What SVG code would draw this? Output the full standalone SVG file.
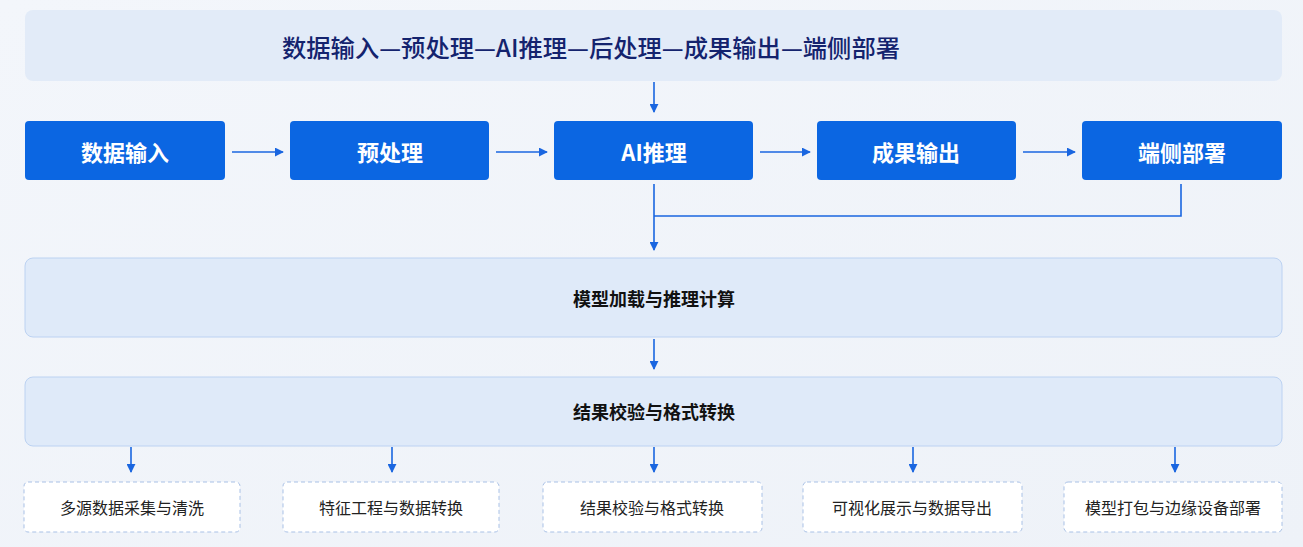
<svg xmlns="http://www.w3.org/2000/svg" width="1303" height="547" viewBox="0 0 1303 547">
<defs>
<linearGradient id="bg" x1="0" y1="0" x2="1" y2="1"><stop offset="0" stop-color="#f3f6fb"/><stop offset="1" stop-color="#eef2f8"/></linearGradient>
<marker id="ah" viewBox="0 0 10 10" refX="9" refY="5" markerWidth="9" markerHeight="9" markerUnits="userSpaceOnUse" orient="auto"><path d="M0,0 L10,5 L0,10 Z" fill="#1a66e0"/></marker>
<style>
.t{font-family:"Noto Sans CJK SC","Liberation Sans",sans-serif;text-anchor:middle;dominant-baseline:central}
.blue{fill:#0b66e2}
.bt{fill:#fff;font-size:22px;font-weight:700}
.panel{fill:#dfeaf9;stroke:#bcd2f2;stroke-width:1}
.pt{fill:#111;font-size:18px;font-weight:700}
.dash{fill:#fff;stroke:#a9c1e6;stroke-width:1;stroke-dasharray:4 3}
.dt{fill:#222;font-size:16px}
.c{stroke:#1a66e0;stroke-width:1.6;fill:none}
</style>
</defs>
<rect width="1303" height="547" fill="url(#bg)"/>
<g id="banner"><rect x="25" y="10" width="1257" height="71" rx="8" fill="#e2ebf8"/><text class="t" x="591" y="46" fill="#14236e" font-size="24" font-weight="500" textLength="618" lengthAdjust="spacingAndGlyphs">数据输入—预处理—AI推理—后处理—成果输出—端侧部署</text></g>
<g id="n1"><rect class="blue" x="25" y="121" width="200" height="59" rx="4"/><text class="t bt" x="125" y="151">数据输入</text></g>
<g id="n2"><rect class="blue" x="290" y="121" width="199" height="59" rx="4"/><text class="t bt" x="390" y="151">预处理</text></g>
<g id="n3"><rect class="blue" x="554" y="121" width="199" height="59" rx="4"/><text class="t bt" x="654" y="151">AI推理</text></g>
<g id="n4"><rect class="blue" x="817" y="121" width="199" height="59" rx="4"/><text class="t bt" x="916" y="151">成果输出</text></g>
<g id="n5"><rect class="blue" x="1082" y="121" width="200" height="59" rx="4"/><text class="t bt" x="1182" y="151">端侧部署</text></g>
<g id="p1"><rect class="panel" x="25" y="258" width="1257" height="79" rx="8"/><text class="t pt" x="654" y="298">模型加载与推理计算</text></g>
<g id="p2"><rect class="panel" x="25" y="377" width="1257" height="69" rx="8"/><text class="t pt" x="654" y="411">结果校验与格式转换</text></g>
<g id="d1"><rect class="dash" x="24" y="482" width="216" height="50" rx="4"/><text class="t dt" x="132" y="507">多源数据采集与清洗</text></g>
<g id="d2"><rect class="dash" x="283" y="482" width="216" height="50" rx="4"/><text class="t dt" x="391" y="507">特征工程与数据转换</text></g>
<g id="d3"><rect class="dash" x="543" y="482" width="219" height="50" rx="4"/><text class="t dt" x="652" y="507">结果校验与格式转换</text></g>
<g id="d4"><rect class="dash" x="803" y="482" width="219" height="50" rx="4"/><text class="t dt" x="912" y="507">可视化展示与数据导出</text></g>
<g id="d5"><rect class="dash" x="1064" y="482" width="218" height="50" rx="4"/><text class="t dt" x="1173" y="507">模型打包与边缘设备部署</text></g>
<g id="connectors">
<line class="c" x1="654" y1="82" x2="654" y2="112" marker-end="url(#ah)"/>
<line class="c" x1="232" y1="152" x2="283" y2="152" marker-end="url(#ah)"/>
<line class="c" x1="496" y1="152" x2="547" y2="152" marker-end="url(#ah)"/>
<line class="c" x1="760" y1="152" x2="810" y2="152" marker-end="url(#ah)"/>
<line class="c" x1="1023" y1="152" x2="1075" y2="152" marker-end="url(#ah)"/>
<line class="c" x1="654" y1="184" x2="654" y2="250" marker-end="url(#ah)"/>
<polyline class="c" points="1181,184 1181,216 654,216"/>
<line class="c" x1="654" y1="339" x2="654" y2="369" marker-end="url(#ah)"/>
<line class="c" x1="131" y1="447" x2="131" y2="472" marker-end="url(#ah)"/>
<line class="c" x1="392" y1="447" x2="392" y2="472" marker-end="url(#ah)"/>
<line class="c" x1="654" y1="447" x2="654" y2="472" marker-end="url(#ah)"/>
<line class="c" x1="913" y1="447" x2="913" y2="472" marker-end="url(#ah)"/>
<line class="c" x1="1175" y1="447" x2="1175" y2="472" marker-end="url(#ah)"/>
</g>
</svg>
